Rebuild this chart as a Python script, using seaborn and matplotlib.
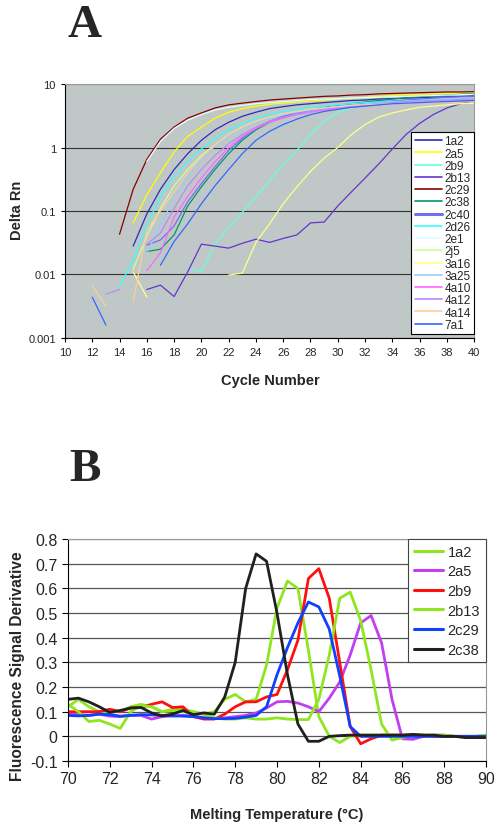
import numpy as np
import pandas as pd
import matplotlib
matplotlib.use("Agg")
import matplotlib.pyplot as plt
import matplotlib.ticker as mticker
import seaborn as sns

nan = np.nan

# ---------------- Panel A : amplification plot (Delta Rn vs cycle) ----------------
cycles = list(range(12, 41))

a_1a2  = [nan, nan, nan, 0.028, 0.09, 0.22, 0.45, 0.8, 1.3, 1.9, 2.5, 3.1, 3.6, 4.1, 4.4, 4.7, 4.9, 5.1, 5.3, 5.5, 5.6, 5.8, 5.9, 6.0, 6.1, 6.2, 6.3, 6.4, 6.5]
a_2a5  = [nan, nan, nan, 0.065, 0.18, 0.4, 0.85, 1.5, 2.1, 2.9, 3.6, 4.1, 4.5, 4.8, 5.0, 5.2, 5.4, 5.6, 5.8, 6.0, 6.2, 6.4, 6.6, 6.8, 6.9, 7.0, 7.1, 7.2, 7.3]
a_2b9  = [nan, nan, nan, nan, nan, nan, nan, 0.013, 0.011, 0.03, 0.055, 0.095, 0.17, 0.3, 0.55, 0.9, 1.6, 2.6, 3.6, 4.2, 4.6, 4.9, 5.1, 5.3, 5.4, 5.5, 5.6, 5.7, 5.8]
a_2b13 = [nan, nan, nan, nan, 0.0058, 0.0068, 0.0045, 0.011, 0.030, 0.028, 0.026, 0.031, 0.036, 0.032, 0.037, 0.042, 0.065, 0.067, 0.12, 0.2, 0.33, 0.55, 0.95, 1.6, 2.4, 3.3, 4.2, 4.9, 5.5]
a_2c29 = [nan, nan, 0.043, 0.22, 0.65, 1.35, 2.1, 2.9, 3.5, 4.2, 4.7, 5.0, 5.3, 5.6, 5.8, 6.0, 6.2, 6.4, 6.5, 6.7, 6.8, 7.0, 7.1, 7.2, 7.3, 7.4, 7.5, 7.5, 7.6]
a_2c38 = [nan, nan, nan, nan, 0.023, 0.025, 0.042, 0.12, 0.24, 0.45, 0.8, 1.3, 1.9, 2.5, 3.0, 3.5, 3.9, 4.3, 4.6, 4.9, 5.2, 5.5, 5.8, 6.1, 6.3, 6.5, 6.7, 6.9, 7.1]
a_2c40 = [nan, nan, nan, nan, 0.029, 0.035, 0.058, 0.14, 0.27, 0.5, 0.9, 1.4, 2.0, 2.6, 3.1, 3.5, 3.9, 4.2, 4.5, 4.8, 5.0, 5.2, 5.4, 5.6, 5.8, 6.0, 6.2, 6.3, 6.4]
a_2d26 = [nan, nan, 0.0065, 0.017, 0.06, 0.17, 0.35, 0.6, 0.95, 1.4, 1.9, 2.4, 2.9, 3.3, 3.7, 4.0, 4.3, 4.5, 4.7, 4.9, 5.1, 5.2, 5.3, 5.4, 5.5, 5.6, 5.7, 5.8, 5.9]
a_2e1  = [nan, nan, nan, nan, 0.6, 1.25, 2.0, 2.7, 3.3, 3.9, 4.3, 4.6, 4.9, 5.1, 5.3, 5.5, 5.7, 5.8, 5.9, 6.0, 6.1, 6.2, 6.3, 6.4, 6.5, 6.6, 6.7, 6.8, 6.9]
a_2j5  = [nan, nan, nan, 0.012, 0.04, 0.11, 0.25, 0.45, 0.75, 1.1, 1.6, 2.1, 2.6, 3.0, 3.4, 3.7, 4.0, 4.2, 4.4, 4.6, 4.8, 4.9, 5.0, 5.1, 5.2, 5.3, 5.4, 5.5, 5.6]
a_3a16 = [nan, nan, nan, 0.011, 0.0044, nan, nan, nan, nan, nan, 0.0098, 0.0105, 0.032, 0.063, 0.13, 0.24, 0.42, 0.68, 1.0, 1.6, 2.3, 3.0, 3.5, 3.9, 4.3, 4.5, 4.7, 4.9, 5.0]
a_3a25 = [nan, nan, nan, nan, 0.022, 0.06, 0.16, 0.35, 0.65, 1.05, 1.5, 2.0, 2.5, 2.9, 3.3, 3.6, 3.9, 4.2, 4.4, 4.6, 4.8, 5.0, 5.2, 5.3, 5.4, 5.5, 5.6, 5.7, 5.8]
a_4a10 = [nan, nan, nan, nan, 0.0115, 0.022, 0.08, 0.17, 0.33, 0.6, 1.0, 1.5, 2.0, 2.5, 2.9, 3.3, 3.6, 3.9, 4.1, 4.3, 4.5, 4.7, 4.9, 5.0, 5.1, 5.2, 5.3, 5.4, 5.5]
a_4a12 = [nan, 0.0049, 0.0058, nan, 0.03, 0.045, 0.11, 0.25, 0.45, 0.75, 1.15, 1.6, 2.1, 2.6, 3.0, 3.4, 3.7, 4.0, 4.3, 4.5, 4.7, 4.9, 5.1, 5.3, 5.4, 5.5, 5.6, 5.7, 5.8]
a_4a14 = [0.0066, 0.0032, nan, 0.0037, 0.05, 0.1, 0.2, 0.4, 0.7, 1.1, 1.6, 2.1, 2.6, 3.0, 3.4, 3.7, 4.0, 4.2, 4.4, 4.6, 4.7, 4.8, 4.9, 5.0, 5.1, 5.1, 5.2, 5.2, 5.3]
a_7a1  = [0.0044, 0.0016, nan, nan, nan, 0.014, 0.033, 0.063, 0.13, 0.25, 0.45, 0.8, 1.3, 1.8, 2.3, 2.8, 3.3, 3.7, 4.0, 4.3, 4.5, 4.7, 4.9, 5.0, 5.1, 5.2, 5.3, 5.4, 5.5]

a_names = ["1a2", "2a5", "2b9", "2b13", "2c29", "2c38", "2c40", "2d26",
           "2e1", "2j5", "3a16", "3a25", "4a10", "4a12", "4a14", "7a1"]
a_series = [a_1a2, a_2a5, a_2b9, a_2b13, a_2c29, a_2c38, a_2c40, a_2d26,
            a_2e1, a_2j5, a_3a16, a_3a25, a_4a10, a_4a12, a_4a14, a_7a1]
a_colors = ["#2b2bb8", "#ffff00", "#66ffdd", "#6633cc", "#880000", "#009966", "#6f6ff0", "#33ffff",
            "#ddffff", "#ccff99", "#ffff88", "#99ccff", "#ff66ff", "#bb88ff", "#ffcc99", "#3366ff"]
a_yticks = [0.001, 0.01, 0.1, 1, 10]
a_yticklabels = ["0.001", "0.01", "0.1", "1", "10"]

# ---------------- Panel B : melting curves ----------------
temps = [70, 70.5, 71, 71.5, 72, 72.5, 73, 73.5, 74, 74.5, 75, 75.5, 76, 76.5, 77, 77.5, 78, 78.5, 79, 79.5,
         80, 80.5, 81, 81.5, 82, 82.5, 83, 83.5, 84, 84.5, 85, 85.5, 86, 86.5, 87, 87.5, 88, 88.5, 89, 89.5, 90]

b_1a2  = [0.12, 0.15, 0.12, 0.10, 0.10, 0.10, 0.12, 0.13, 0.12, 0.10, 0.11, 0.11, 0.10, 0.09, 0.10, 0.15, 0.17, 0.14, 0.15, 0.29,
          0.52, 0.63, 0.60, 0.35, 0.08, 0.0, -0.025, 0.0, 0.005, 0.005, 0.005, 0.005, 0.005, 0.005, 0.005, 0.005, 0.0, 0.0, 0.0, 0.0, 0.005]
b_2a5  = [0.09, 0.088, 0.085, 0.09, 0.082, 0.08, 0.085, 0.085, 0.07, 0.08, 0.083, 0.085, 0.083, 0.075, 0.072, 0.075, 0.08, 0.085, 0.095, 0.115,
          0.14, 0.142, 0.135, 0.12, 0.10, 0.155, 0.22, 0.33, 0.46, 0.49, 0.38, 0.15, -0.01, -0.012, 0.0, 0.005, 0.005, 0.0, 0.0, 0.0, 0.0]
b_2b9  = [0.10, 0.10, 0.10, 0.10, 0.11, 0.10, 0.115, 0.117, 0.13, 0.14, 0.117, 0.12, 0.08, 0.07, 0.07, 0.09, 0.12, 0.14, 0.14, 0.16,
          0.17, 0.27, 0.39, 0.64, 0.68, 0.56, 0.30, 0.04, -0.03, -0.01, 0.005, 0.005, 0.005, 0.005, 0.005, 0.0, 0.0, 0.0, 0.0, 0.0, 0.0]
b_2b13 = [0.13, 0.10, 0.06, 0.065, 0.05, 0.032, 0.10, 0.125, 0.12, 0.10, 0.105, 0.10, 0.095, 0.09, 0.075, 0.07, 0.07, 0.075, 0.07, 0.07,
          0.075, 0.07, 0.068, 0.068, 0.15, 0.33, 0.56, 0.585, 0.47, 0.27, 0.05, -0.015, -0.005, 0.005, 0.005, 0.005, 0.005, 0.0, 0.0, 0.0, 0.005]
b_2c29 = [0.085, 0.083, 0.085, 0.09, 0.088, 0.082, 0.085, 0.088, 0.087, 0.085, 0.083, 0.082, 0.08, 0.075, 0.072, 0.072, 0.073, 0.078, 0.085, 0.12,
          0.25, 0.36, 0.46, 0.545, 0.525, 0.435, 0.245, 0.04, 0.0, 0.0, 0.0, 0.0, 0.0, 0.0, 0.0, 0.0, 0.0, 0.0, 0.0, 0.0, 0.0]
b_2c38 = [0.15, 0.155, 0.14, 0.12, 0.097, 0.105, 0.115, 0.117, 0.095, 0.083, 0.09, 0.105, 0.088, 0.095, 0.09, 0.16, 0.30, 0.60, 0.74, 0.71,
          0.50, 0.25, 0.05, -0.02, -0.02, 0.0, 0.003, 0.005, 0.005, 0.005, 0.005, 0.005, 0.005, 0.008, 0.005, 0.005, 0.0, 0.0, -0.005, -0.005, -0.005]

b_names = ["1a2", "2a5", "2b9", "2b13", "2c29", "2c38"]
b_series = [b_1a2, b_2a5, b_2b9, b_2b13, b_2c29, b_2c38]
b_colors = ["#8fe620", "#c040f0", "#ff1010", "#8fe620", "#1040ff", "#202020"]
b_yticks = [-0.1, 0, 0.1, 0.2, 0.3, 0.4, 0.5, 0.6, 0.7, 0.8]
b_yticklabels = ["-0.1", "0", "0.1", "0.2", "0.3", "0.4", "0.5", "0.6", "0.7", "0.8"]


def to_long(xs, series, names):
    # one row per point; a new "seg" starts after every gap so broken curves stay broken
    rows = []
    for name, vals in zip(names, series):
        seg, gap = 0, True
        for x, v in zip(xs, vals):
            if np.isnan(v):
                gap = True
                continue
            if gap:
                seg += 1
                gap = False
            rows.append((x, v, name, f"{name}_{seg}"))
    return pd.DataFrame(rows, columns=["x", "y", "name", "seg"])


sns.set_style("ticks")
plt.rcParams["font.family"] = ["Liberation Sans", "DejaVu Sans"]

fig = plt.figure(figsize=(4.96, 8.28), dpi=100)
axA = fig.add_axes([0.131, 0.5906, 0.825, 0.3067])
axB = fig.add_axes([0.137, 0.0797, 0.843, 0.268])

# ---- A ----
dfA = to_long(cycles, a_series, a_names)
sns.lineplot(data=dfA, x="x", y="y", hue="name", units="seg", estimator=None,
             hue_order=a_names, palette=dict(zip(a_names, a_colors)),
             linewidth=0.9, sort=False, ax=axA)
axA.set_yscale("log")
axA.set_xlim(10, 40)
axA.set_ylim(0.001, 10)
axA.set_xticks(range(10, 41, 2))
axA.set_yticks(a_yticks)
axA.set_yticklabels(a_yticklabels)
axA.yaxis.set_minor_locator(mticker.NullLocator())
axA.set_facecolor("#c0c8c7")
axA.yaxis.grid(True, color="#333333", linewidth=0.8)
axA.set_axisbelow(True)
axA.tick_params(labelsize=8, length=3, width=0.8, color="black")
for s in ["top", "right"]:
    axA.spines[s].set_color("#999999")
for s in ["left", "bottom"]:
    axA.spines[s].set_color("black")
axA.set_xlabel("")
axA.set_ylabel("")
legA = axA.legend(loc="upper right", bbox_to_anchor=(1.0, 0.812), fontsize=8.5,
                  frameon=True, fancybox=False, edgecolor="black", framealpha=1,
                  handlelength=2.3, handletextpad=0.2, labelspacing=0.02,
                  borderpad=0.3, borderaxespad=0)
legA.get_frame().set_linewidth(0.8)
for h in legA.get_lines():
    h.set_linewidth(1.2)
legA.get_lines()[6].set_linewidth(2.2)

# ---- B ----
dfB = to_long(temps, b_series, b_names)
sns.lineplot(data=dfB, x="x", y="y", hue="name", units="seg", estimator=None,
             hue_order=b_names, palette=dict(zip(b_names, b_colors)),
             linewidth=2.0, sort=False, ax=axB)
axB.set_xlim(70, 90)
axB.set_ylim(-0.1, 0.8)
axB.set_xticks(range(70, 91, 2))
axB.set_yticks(b_yticks)
axB.set_yticklabels(b_yticklabels)
axB.yaxis.grid(True, color="#555555", linewidth=0.9)
axB.set_axisbelow(True)
axB.tick_params(labelsize=11.5, length=4, width=0.8, color="black")
for s in ["top", "right"]:
    axB.spines[s].set_color("#999999")
for s in ["left", "bottom"]:
    axB.spines[s].set_color("black")
axB.set_xlabel("")
axB.set_ylabel("")
legB = axB.legend(loc="upper right", bbox_to_anchor=(1.0, 1.0), fontsize=10.5,
                  frameon=True, fancybox=False, edgecolor="#444444", framealpha=1,
                  handlelength=2.0, handletextpad=0.3, labelspacing=0.38,
                  borderpad=0.4, borderaxespad=0)
legB.get_frame().set_linewidth(0.8)
for h in legB.get_lines():
    h.set_linewidth(2.2)

# ---- labels ----
fig.text(85 / 496, 1 - 37 / 828, "A", ha="center", va="baseline", fontsize=34,
         fontweight="bold", family="Liberation Serif")
fig.text(85 / 496, 1 - 481 / 828, "B", ha="center", va="baseline", fontsize=34,
         fontweight="bold", family="Liberation Serif")
fig.text(270 / 496, 1 - 381 / 828, "Cycle Number", ha="center", va="center",
         fontsize=10.5, fontweight="bold")
fig.text(17 / 496, 1 - 210 / 828, "Delta Rn", ha="center", va="center",
         rotation=90, fontsize=10.5, fontweight="bold")
fig.text(277 / 496, 1 - 815 / 828, "Melting Temperature (\u00b0C)", ha="center", va="center",
         fontsize=10.5, fontweight="bold")
fig.text(18 / 496, 1 - 666 / 828, "Fluorescence Signal Derivative", ha="center", va="center",
         rotation=90, fontsize=11.2, fontweight="bold")

fig.savefig("out.png", dpi=100)
